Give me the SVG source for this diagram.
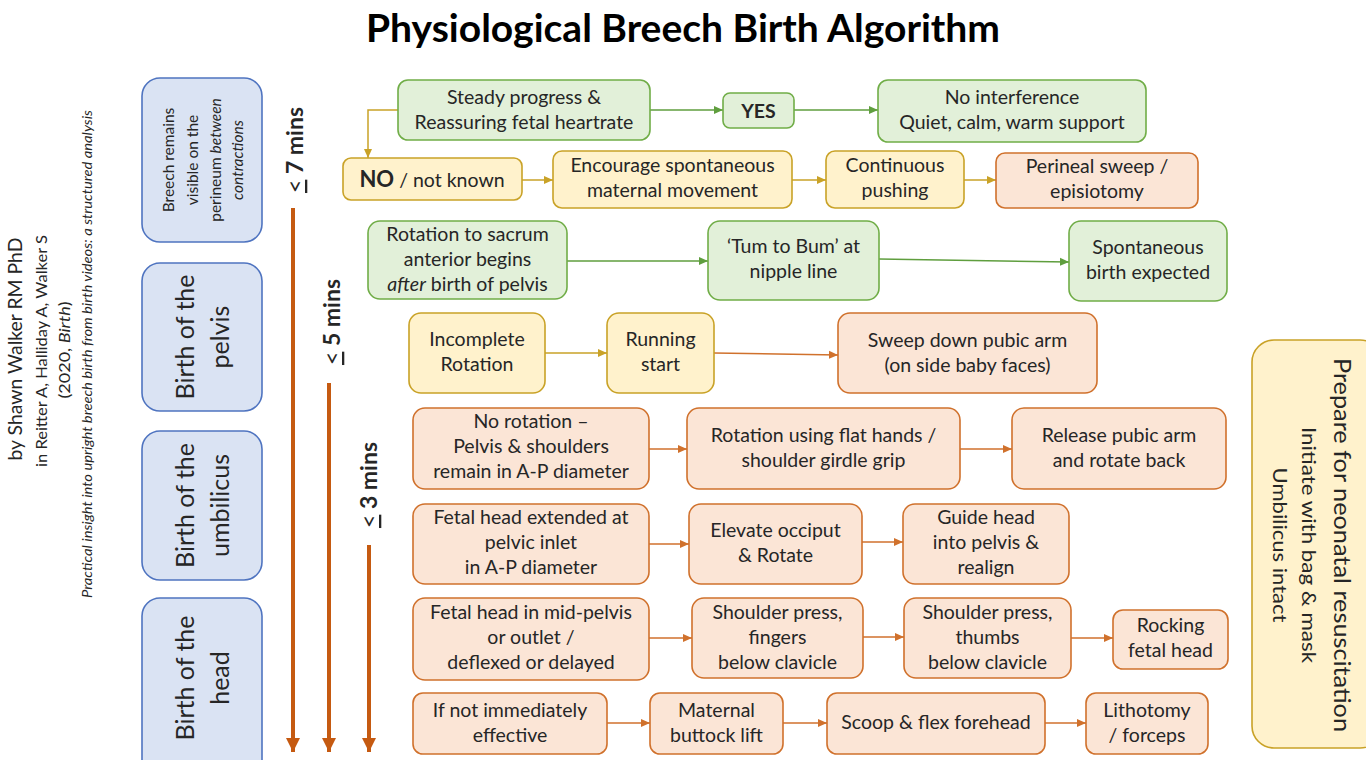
<svg xmlns="http://www.w3.org/2000/svg" width="1366" height="760" viewBox="0 0 1366 760">
<defs>
<style>
.t{font-family:Lato,"Open Sans","DejaVu Sans",sans-serif;font-size:19.5px;fill:#262626;text-anchor:middle}
.g{fill:#e2f0d9;stroke:#70ad47;stroke-width:1.6}
.y{fill:#fff2cc;stroke:#c9a227;stroke-width:1.6}
.o{fill:#fbe5d6;stroke:#d0712c;stroke-width:1.6}
.b{fill:#dae3f3;stroke:#4f74c0;stroke-width:1.6}
.cg{stroke:#5f9e3e;stroke-width:1.5;fill:none;marker-end:url(#ag)}
.cy{stroke:#c9a227;stroke-width:1.5;fill:none;marker-end:url(#ay)}
.co{stroke:#d0712c;stroke-width:1.5;fill:none;marker-end:url(#ao)}
.tl{stroke:#c55a11;stroke-width:4;fill:none;marker-end:url(#at)}
.lab{font-family:Lato,"Open Sans","DejaVu Sans",sans-serif;font-size:23px;font-weight:bold;fill:#262626;text-anchor:middle}
</style>
<marker id="ag" markerUnits="userSpaceOnUse" markerWidth="10" markerHeight="10" refX="9" refY="5" orient="auto"><path d="M0,1 L9,5 L0,9 z" fill="#5f9e3e"/></marker>
<marker id="ay" markerUnits="userSpaceOnUse" markerWidth="10" markerHeight="10" refX="9" refY="5" orient="auto"><path d="M0,1 L9,5 L0,9 z" fill="#c9a227"/></marker>
<marker id="ao" markerUnits="userSpaceOnUse" markerWidth="10" markerHeight="10" refX="9" refY="5" orient="auto"><path d="M0,1 L9,5 L0,9 z" fill="#d0712c"/></marker>
<marker id="at" markerUnits="userSpaceOnUse" markerWidth="16" markerHeight="16" refX="14" refY="8" orient="auto"><path d="M0,1 L14,8 L0,15 z" fill="#c55a11"/></marker>
</defs>
<rect width="1366" height="760" fill="#ffffff"/>

<text x="683" y="42" font-family="Lato,'Open Sans',sans-serif" font-size="39" font-weight="bold" text-anchor="middle" fill="#000">Physiological Breech Birth Algorithm</text>

<!-- credits -->
<g id="credits" font-family="Lato,'Open Sans',sans-serif" fill="#262626" text-anchor="middle">
<text transform="translate(22,349) rotate(-90)" font-size="19" textLength="223" lengthAdjust="spacingAndGlyphs">by Shawn Walker RM PhD</text>
<text transform="translate(47,351) rotate(-90)" font-size="15" textLength="232" lengthAdjust="spacingAndGlyphs">in Reitter A, Halliday A, Walker S</text>
<text transform="translate(70,350) rotate(-90)" font-size="15" textLength="97" lengthAdjust="spacingAndGlyphs">(2020, <tspan font-style="italic">Birth</tspan>)</text>
<text transform="translate(92,354) rotate(-90)" font-size="12.5" font-style="italic" textLength="488" lengthAdjust="spacingAndGlyphs">Practical insight into upright breech birth from birth videos: a structured analysis</text>
</g>

<!-- stage boxes -->
<g id="stage-perineum">
<rect class="b" x="142" y="78" width="120" height="164" rx="18"/>
<g font-family="Lato,'Open Sans',sans-serif" font-size="15.5" fill="#262626" text-anchor="middle">
<text transform="translate(174,160) rotate(-90)">Breech remains</text>
<text transform="translate(197.5,160) rotate(-90)">visible on the</text>
<text transform="translate(221,160) rotate(-90)">perineum <tspan font-style="italic">between</tspan></text>
<text transform="translate(243,160) rotate(-90)" font-style="italic">contractions</text>
</g>
</g>
<g id="stage-pelvis">
<rect class="b" x="142" y="263" width="120" height="148" rx="18"/>
<g font-family="Lato,'Open Sans',sans-serif" font-size="25" fill="#262626" text-anchor="middle">
<text transform="translate(194,337) rotate(-90)">Birth of the</text>
<text transform="translate(229,337) rotate(-90)">pelvis</text>
</g>
</g>
<g id="stage-umbilicus">
<rect class="b" x="142" y="431" width="120" height="149" rx="18"/>
<g font-family="Lato,'Open Sans',sans-serif" font-size="25" fill="#262626" text-anchor="middle">
<text transform="translate(194,505.5) rotate(-90)">Birth of the</text>
<text transform="translate(229,505.5) rotate(-90)">umbilicus</text>
</g>
</g>
<g id="stage-head">
<rect class="b" x="142" y="598" width="120" height="180" rx="18"/>
<g font-family="Lato,'Open Sans',sans-serif" font-size="25" fill="#262626" text-anchor="middle">
<text transform="translate(194,678) rotate(-90)">Birth of the</text>
<text transform="translate(229,678) rotate(-90)">head</text>
</g>
</g>

<!-- timelines -->
<g id="timelines">
<path class="tl" d="M293,208 V752"/>
<path class="tl" d="M329,383 V752"/>
<path class="tl" d="M369,545 V752"/>
<text class="lab" transform="translate(303,150) rotate(-90)"><tspan font-weight="normal" text-decoration="underline">&lt;</tspan> 7 mins</text>
<text class="lab" transform="translate(340,322) rotate(-90)"><tspan font-weight="normal" text-decoration="underline">&lt;</tspan> 5 mins</text>
<text class="lab" transform="translate(377,485) rotate(-90)"><tspan font-weight="normal" text-decoration="underline">&lt;</tspan> 3 mins</text>
</g>

<!-- resuscitation -->
<g id="resus">
<rect class="y" x="1252" y="340" width="130" height="408" rx="22"/>
<g font-family="Lato,'Open Sans',sans-serif" fill="#262626" text-anchor="middle">
<text transform="translate(1334,545) rotate(90)" font-size="23" textLength="374" lengthAdjust="spacingAndGlyphs">Prepare for neonatal resuscitation</text>
<text transform="translate(1302,545) rotate(90)" font-size="20" textLength="236" lengthAdjust="spacingAndGlyphs">Initiate with bag &amp; mask</text>
<text transform="translate(1273,545) rotate(90)" font-size="20" textLength="155" lengthAdjust="spacingAndGlyphs">Umbilicus intact</text>
</g>
</g>

<!-- connectors -->
<g id="connectors">
<path class="cg" d="M650,110 H723"/>
<path class="cg" d="M794,110 H878"/>
<path class="cy" d="M398,110 H368 V158"/>
<path class="cy" d="M522,180 H553"/>
<path class="cy" d="M792,180 H826"/>
<path class="cy" d="M964,180 H996"/>
<path class="cg" d="M567,261 H708"/>
<path class="cg" d="M879,259 L1069,262"/>
<path class="cy" d="M545,353 H607"/>
<path class="co" d="M714,353 L838,355"/>
<path class="co" d="M649,449 H687"/>
<path class="co" d="M960,449 H1012"/>
<path class="co" d="M649,544 H689"/>
<path class="co" d="M862,542 H903"/>
<path class="co" d="M649,638 H692"/>
<path class="co" d="M863,637 H904"/>
<path class="co" d="M1071,638 H1113"/>
<path class="co" d="M607,723 H650"/>
<path class="co" d="M783,723 H827"/>
<path class="co" d="M1045,723 H1086"/>
</g>

<!-- row 1 -->
<g id="n-steady"><rect class="g" x="398" y="80" width="252" height="60" rx="10"/>
<text class="t" x="524" y="104">Steady progress &amp;</text><text class="t" x="524" y="129">Reassuring fetal heartrate</text></g>
<g id="n-yes"><rect class="g" x="723" y="93" width="71" height="35" rx="7"/>
<text class="t" x="758.5" y="118" font-weight="bold" font-size="22">YES</text></g>
<g id="n-nointerf"><rect class="g" x="878" y="80" width="268" height="62" rx="10"/>
<text class="t" x="1012" y="104">No interference</text><text class="t" x="1012" y="129">Quiet, calm, warm support</text></g>

<!-- row 2 -->
<g id="n-no"><rect class="y" x="343" y="158" width="179" height="42" rx="8"/>
<text class="t" x="432" y="187"><tspan font-weight="bold" font-size="22">NO</tspan> / not known</text></g>
<g id="n-encourage"><rect class="y" x="553" y="151" width="239" height="57" rx="9"/>
<text class="t" x="672.5" y="172">Encourage spontaneous</text><text class="t" x="672.5" y="197">maternal movement</text></g>
<g id="n-continuous"><rect class="y" x="826" y="151" width="138" height="57" rx="9"/>
<text class="t" x="895" y="172">Continuous</text><text class="t" x="895" y="197">pushing</text></g>
<g id="n-perineal"><rect class="o" x="996" y="153" width="202" height="55" rx="9"/>
<text class="t" x="1097" y="173">Perineal sweep /</text><text class="t" x="1097" y="198">episiotomy</text></g>

<!-- row 3 -->
<g id="n-rotation"><rect class="g" x="368" y="221" width="199" height="78" rx="12"/>
<text class="t" x="467.5" y="241">Rotation to sacrum</text><text class="t" x="467.5" y="266">anterior begins</text><text class="t" x="467.5" y="291"><tspan font-style="italic">after</tspan> birth of pelvis</text></g>
<g id="n-tum"><rect class="g" x="708" y="221" width="171" height="79" rx="12"/>
<text class="t" x="793.5" y="253">‘Tum to Bum’ at</text><text class="t" x="793.5" y="278">nipple line</text></g>
<g id="n-spont"><rect class="g" x="1069" y="221" width="158" height="80" rx="12"/>
<text class="t" x="1148" y="254">Spontaneous</text><text class="t" x="1148" y="279">birth expected</text></g>

<!-- row 4 -->
<g id="n-incomplete"><rect class="y" x="409" y="313" width="136" height="80" rx="12"/>
<text class="t" x="477" y="346">Incomplete</text><text class="t" x="477" y="371">Rotation</text></g>
<g id="n-running"><rect class="y" x="607" y="313" width="107" height="80" rx="12"/>
<text class="t" x="660.5" y="346">Running</text><text class="t" x="660.5" y="371">start</text></g>
<g id="n-sweep"><rect class="o" x="838" y="313" width="259" height="80" rx="12"/>
<text class="t" x="967.5" y="347">Sweep down pubic arm</text><text class="t" x="967.5" y="372">(on side baby faces)</text></g>

<!-- row 5 -->
<g id="n-norot"><rect class="o" x="413" y="408" width="236" height="81" rx="12"/>
<text class="t" x="531" y="428">No rotation –</text><text class="t" x="531" y="453">Pelvis &amp; shoulders</text><text class="t" x="531" y="478">remain in A-P diameter</text></g>
<g id="n-flat"><rect class="o" x="687" y="408" width="273" height="81" rx="12"/>
<text class="t" x="823.5" y="442">Rotation using flat hands /</text><text class="t" x="823.5" y="467">shoulder girdle grip</text></g>
<g id="n-release"><rect class="o" x="1012" y="408" width="214" height="81" rx="12"/>
<text class="t" x="1119" y="442">Release pubic arm</text><text class="t" x="1119" y="467">and rotate back</text></g>

<!-- row 6 -->
<g id="n-extended"><rect class="o" x="413" y="504" width="236" height="80" rx="12"/>
<text class="t" x="531" y="524">Fetal head extended at</text><text class="t" x="531" y="549">pelvic inlet</text><text class="t" x="531" y="574">in A-P diameter</text></g>
<g id="n-elevate"><rect class="o" x="689" y="504" width="173" height="80" rx="12"/>
<text class="t" x="775.5" y="537">Elevate occiput</text><text class="t" x="775.5" y="562">&amp; Rotate</text></g>
<g id="n-guide"><rect class="o" x="903" y="504" width="166" height="80" rx="12"/>
<text class="t" x="986" y="524">Guide head</text><text class="t" x="986" y="549">into pelvis &amp;</text><text class="t" x="986" y="574">realign</text></g>

<!-- row 7 -->
<g id="n-midpelvis"><rect class="o" x="413" y="598" width="236" height="82" rx="12"/>
<text class="t" x="531" y="619">Fetal head in mid-pelvis</text><text class="t" x="531" y="644">or outlet /</text><text class="t" x="531" y="669">deflexed or delayed</text></g>
<g id="n-fingers"><rect class="o" x="692" y="598" width="171" height="80" rx="12"/>
<text class="t" x="777.5" y="619">Shoulder press,</text><text class="t" x="777.5" y="644">fingers</text><text class="t" x="777.5" y="669">below clavicle</text></g>
<g id="n-thumbs"><rect class="o" x="904" y="598" width="167" height="80" rx="12"/>
<text class="t" x="987.5" y="619">Shoulder press,</text><text class="t" x="987.5" y="644">thumbs</text><text class="t" x="987.5" y="669">below clavicle</text></g>
<g id="n-rocking"><rect class="o" x="1113" y="610" width="115" height="59" rx="10"/>
<text class="t" x="1170.5" y="632">Rocking</text><text class="t" x="1170.5" y="657">fetal head</text></g>

<!-- row 8 -->
<g id="n-ifnot"><rect class="o" x="413" y="693" width="194" height="61" rx="10"/>
<text class="t" x="510" y="717">If not immediately</text><text class="t" x="510" y="742">effective</text></g>
<g id="n-buttock"><rect class="o" x="650" y="693" width="133" height="61" rx="10"/>
<text class="t" x="716.5" y="717">Maternal</text><text class="t" x="716.5" y="742">buttock lift</text></g>
<g id="n-scoop"><rect class="o" x="827" y="693" width="218" height="61" rx="10"/>
<text class="t" x="936" y="729">Scoop &amp; flex forehead</text></g>
<g id="n-lithotomy"><rect class="o" x="1086" y="693" width="122" height="61" rx="10"/>
<text class="t" x="1147" y="717">Lithotomy</text><text class="t" x="1147" y="742">/ forceps</text></g>
</svg>
